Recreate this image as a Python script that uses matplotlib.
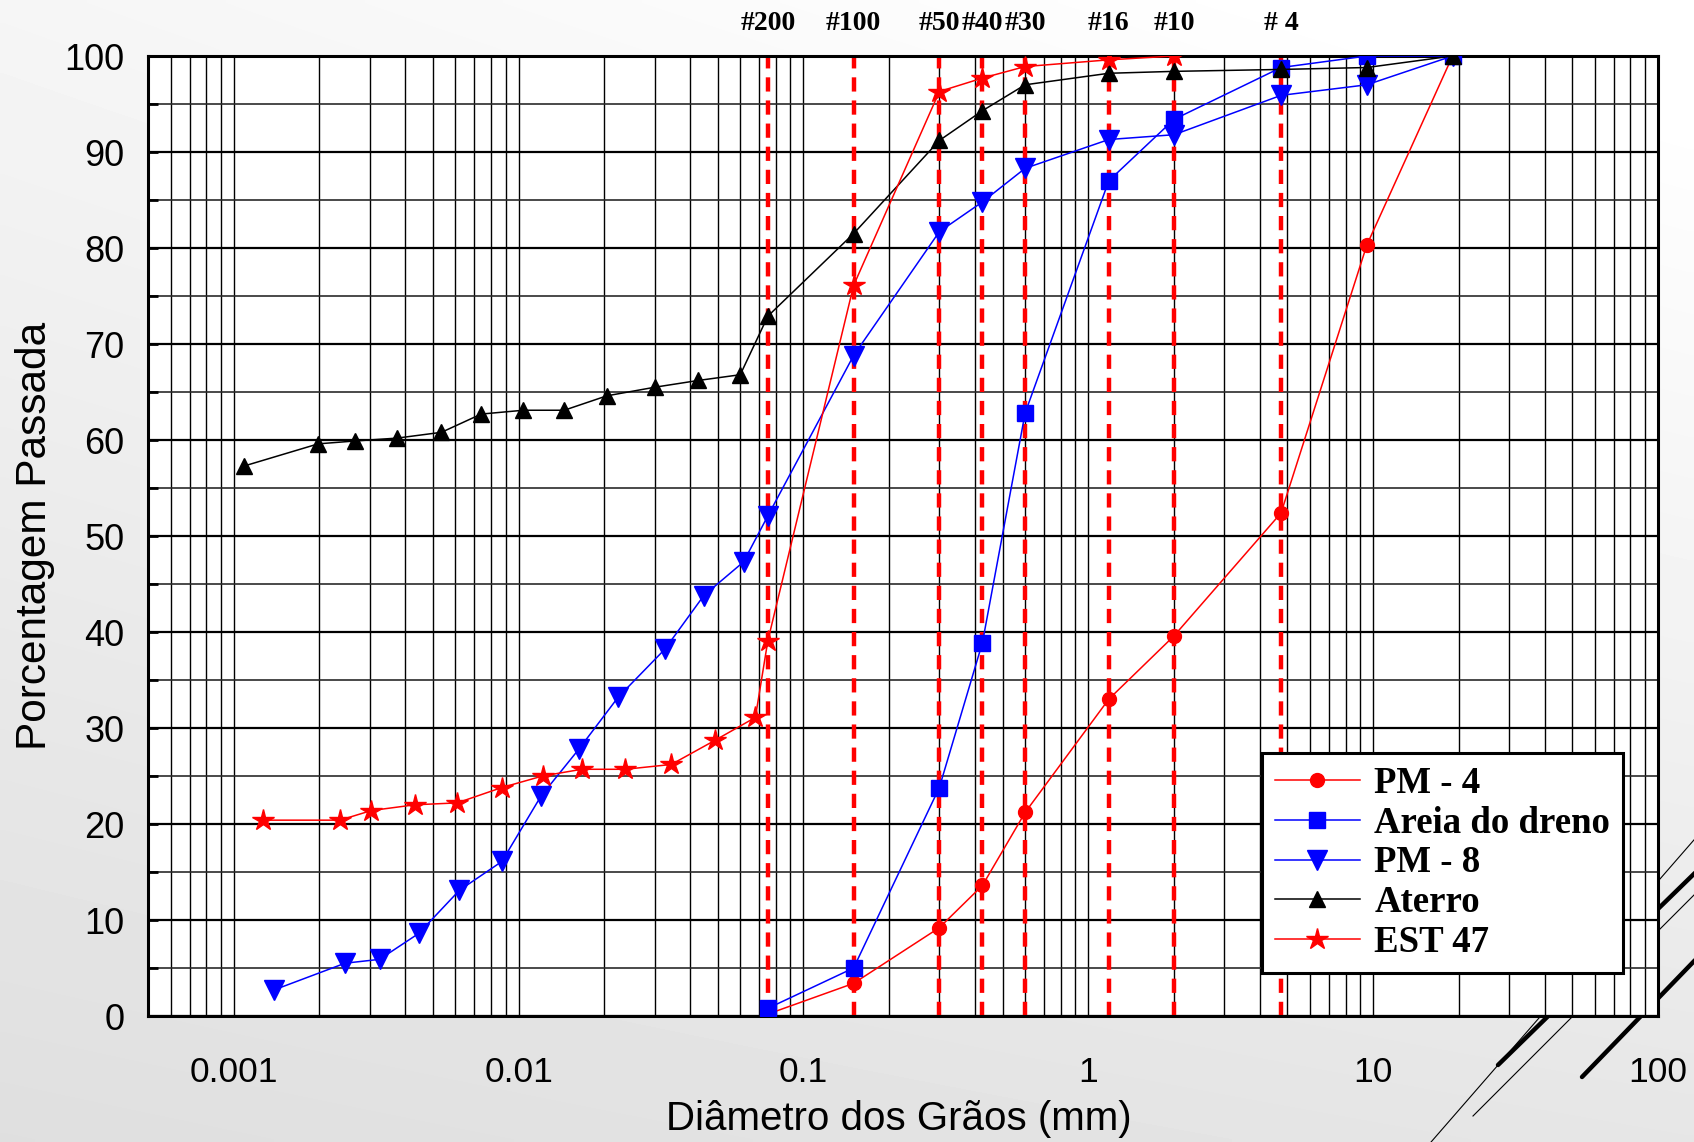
import numpy as np
import matplotlib
matplotlib.use("Agg")
import matplotlib.pyplot as plt
from matplotlib.ticker import FixedLocator, FixedFormatter, NullFormatter, MultipleLocator

# ---------------- data ----------------
sieve_sizes = [0.075, 0.15, 0.3, 0.425, 0.6, 1.18, 2.0, 4.75]
sieve_labels = ["#200", "#100", "#50", "#40", "#30", "#16", "#10", "# 4"]

pm4_d = [0.075, 0.15, 0.3, 0.425, 0.6, 1.18, 2.0, 4.75, 9.5, 19.0]
pm4_p = [0.2, 3.4, 9.2, 13.6, 21.2, 33.0, 39.6, 52.4, 80.3, 100.0]

areia_d = [0.075, 0.15, 0.3, 0.425, 0.6, 1.18, 2.0, 4.75, 9.5, 19.0]
areia_p = [0.8, 5.0, 23.8, 38.9, 62.8, 87.0, 93.4, 98.8, 100.0, 100.0]

pm8_d = [0.00138, 0.00246, 0.00325, 0.00446, 0.0062, 0.00874, 0.01198, 0.01628,
         0.02235, 0.0326, 0.0447, 0.0616, 0.075, 0.15, 0.3, 0.425, 0.6, 1.18,
         2.0, 4.75, 9.5, 19.0]
pm8_p = [2.7, 5.5, 5.9, 8.6, 13.1, 16.1, 22.9, 27.8, 33.2, 38.2, 43.8, 47.3,
         52.1, 68.8, 81.7, 84.8, 88.3, 91.3, 91.8, 95.9, 97.0, 100.0]

aterro_d = [0.00109, 0.00198, 0.00267, 0.00375, 0.00536, 0.00739, 0.0104,
            0.01446, 0.0204, 0.0301, 0.0427, 0.060, 0.075, 0.15, 0.3, 0.425,
            0.6, 1.18, 2.0, 4.75, 9.5, 19.0]
aterro_p = [57.3, 59.6, 59.9, 60.2, 60.8, 62.7, 63.1, 63.1, 64.6, 65.5, 66.2,
            66.8, 72.9, 81.5, 91.2, 94.3, 97.0, 98.2, 98.4, 98.6, 98.8, 100.0]

est47_d = [0.00127, 0.00236, 0.00304, 0.00432, 0.00609, 0.00874, 0.01214,
           0.01666, 0.0237, 0.03435, 0.0488, 0.0678, 0.075, 0.15, 0.3, 0.425,
           0.6, 1.18, 2.0]
est47_p = [20.4, 20.4, 21.4, 22.0, 22.2, 23.8, 25.0, 25.7, 25.7, 26.2, 28.7,
           31.1, 39.1, 76.1, 96.3, 97.7, 98.9, 99.6, 100.0]

xtick_vals = [0.001, 0.01, 0.1, 1, 10, 100]
xtick_labels = ["0.001", "0.01", "0.1", "1", "10", "100"]
ytick_vals = [0, 10, 20, 30, 40, 50, 60, 70, 80, 90, 100]

# ---------------- figure ----------------
W, H = 1694, 1142
fig = plt.figure(figsize=(W / 100, H / 100), dpi=100)

# background gradient + decorative diagonal lines
bg = fig.add_axes([0, 0, 1, 1], zorder=-10)
yy, xx = np.mgrid[0:1:200j, 0:1:200j]
g = 0.99 - 0.11 * (0.8 * yy + 0.25 * (1 - xx)) + 0.02 * (1 - yy) * xx
bg.imshow(np.clip(g, 0, 1), cmap="gray", vmin=0, vmax=1, extent=[0, W, H, 0],
          aspect="auto", interpolation="bilinear")
bg.plot([1418, 1700], [1157, 833], color="black", lw=0.8)
bg.plot([1473, 1700], [1116, 889], color="black", lw=0.8)
bg.plot([1498, 1700], [1065, 868], color="black", lw=3.2, solid_capstyle="round")
bg.plot([1582, 1700], [1077, 955], color="black", lw=3.2, solid_capstyle="round")
bg.set_xlim(0, W)
bg.set_ylim(H, 0)
bg.axis("off")

ax = fig.add_axes([148 / W, 1 - 1016 / H, 1510 / W, 960 / H])
ax.set_facecolor("white")
ax.set_xscale("log")
ax.set_xlim(0.0005, 100)
ax.set_ylim(0, 100)

# grid
minor_x = [m * 10.0 ** k for k in range(-4, 3) for m in range(2, 10)]
ax.xaxis.set_major_locator(FixedLocator(xtick_vals))
ax.xaxis.set_major_formatter(FixedFormatter(xtick_labels))
ax.xaxis.set_minor_locator(FixedLocator(minor_x))
ax.xaxis.set_minor_formatter(NullFormatter())
ax.yaxis.set_major_locator(FixedLocator(ytick_vals))
ax.yaxis.set_minor_locator(MultipleLocator(5))
ax.grid(True, which="both", axis="x", color="black", lw=1.0, zorder=1)
ax.grid(True, which="major", axis="y", color="black", lw=1.6, zorder=1)
ax.grid(True, which="minor", axis="y", color="#2a2a2a", lw=1.2, zorder=1)
ax.set_axisbelow(True)

for s in ax.spines.values():
    s.set_linewidth(2.2)
    s.set_color("black")

ax.tick_params(axis="x", which="both", length=0, pad=29, labelsize=25.5)
ax.tick_params(axis="y", which="both", direction="in", length=7, width=2,
               pad=17, labelsize=26)
for lab in ax.get_xticklabels() + ax.get_yticklabels():
    lab.set_fontfamily("Liberation Sans")

# sieve lines and labels
for d, lab in zip(sieve_sizes, sieve_labels):
    ax.axvline(d, color="#ff0000", lw=3.2, ls=(0, (3.2, 2.0)), zorder=2)
    ax.text(d, 1.034, lab, transform=ax.get_xaxis_transform(), ha="center",
            va="center", fontsize=20, fontweight="bold",
            fontfamily="Liberation Serif", clip_on=False)

# series
ax.plot(pm4_d, pm4_p, color="#ff0000", lw=1.1, marker="o", ms=10,
        label="PM - 4", zorder=4)
ax.plot(areia_d, areia_p, color="#0000ff", lw=1.1, marker="s", ms=11.5,
        label="Areia do dreno", zorder=4)
ax.plot(pm8_d, pm8_p, color="#0000ff", lw=1.1, marker="v", ms=14,
        label="PM - 8", zorder=4)
ax.plot(aterro_d, aterro_p, color="black", lw=1.1, marker="^", ms=12,
        label="Aterro", zorder=4)
ax.plot(est47_d, est47_p, color="#ff0000", lw=1.1, marker="*", ms=16,
        label="EST 47", zorder=5)

leg = ax.legend(loc="upper left", bbox_to_anchor=((1262 - 148) / 1510, (1016 - 753) / 960),
                borderaxespad=0, frameon=True, fancybox=False, framealpha=1,
                edgecolor="black", numpoints=1, handlelength=2.3,
                handletextpad=0.4, labelspacing=0.13, borderpad=0.35,
                prop={"family": "Liberation Serif", "weight": "bold", "size": 26.5})
leg.get_frame().set_linewidth(2.2)
leg.set_zorder(10)

fig.text(899 / W, 1 - 1119 / H, "Diâmetro dos Grãos (mm)", ha="center",
         va="center", fontsize=29, fontfamily="Liberation Sans")
fig.text(35 / W, 1 - 536 / H, "Porcentagem Passada", ha="center", va="center",
         rotation=90, fontsize=30.5, fontfamily="Liberation Sans")

fig.savefig("out.png", dpi=100)
